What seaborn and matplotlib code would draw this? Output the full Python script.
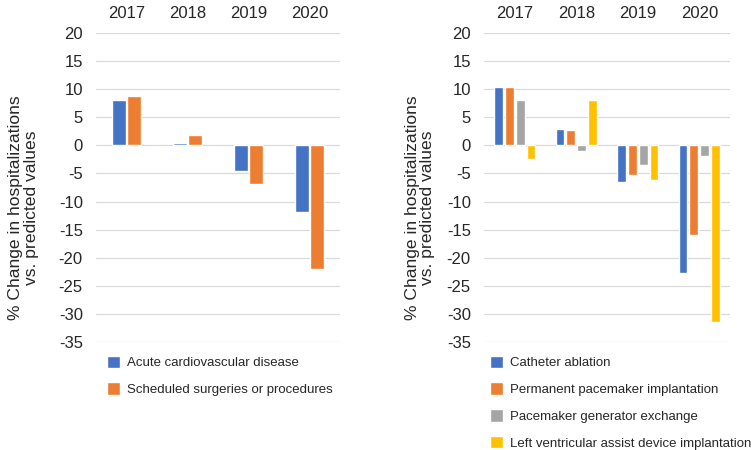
import pandas as pd
import matplotlib.pyplot as plt
import seaborn as sns

# data
years = ["2017", "2018", "2019", "2020"]

left_series = ["Acute cardiovascular disease", "Scheduled surgeries or procedures"]
acute_cvd = [8.1, 0.4, -4.6, -11.9]
scheduled = [8.8, 1.8, -6.9, -22.0]

right_series = ["Catheter ablation", "Permanent pacemaker implantation",
                "Pacemaker generator exchange", "Left ventricular assist device implantation"]
catheter_ablation = [10.3, 3.0, -6.6, -22.8]
ppm_implant = [10.35, 2.8, -5.2, -16.0]
generator_exchange = [8.1, -0.95, -3.5, -1.9]
lvad_implant = [-2.5, 8.1, -6.2, -31.5]

yticks = list(range(-35, 21, 5))

colors = ["#4472C4", "#ED7D31", "#A5A5A5", "#FFC000"]

sns.set_style("white")
plt.rcParams["font.family"] = ["Liberation Sans", "DejaVu Sans"]
plt.rcParams["axes.unicode_minus"] = False


def long_table(names, values):
    rows = []
    for name, vals in zip(names, values):
        for y, v in zip(years, vals):
            rows.append({"year": y, "series": name, "change": v})
    return pd.DataFrame(rows)


left_df = long_table(left_series, [acute_cvd, scheduled])
right_df = long_table(right_series, [catheter_ablation, ppm_implant,
                                     generator_exchange, lvad_implant])

fig = plt.figure(figsize=(7.51, 4.5), dpi=100)
ax1 = fig.add_axes([96 / 751, 1 - 342 / 450, 244 / 751, 309 / 450])
ax2 = fig.add_axes([484 / 751, 1 - 342 / 450, 246 / 751, 309 / 450])

sns.barplot(data=left_df, x="year", y="change", hue="series", order=years,
            hue_order=left_series, palette=colors[:2], width=0.51, gap=0.12,
            saturation=1, ax=ax1, legend=True)
sns.barplot(data=right_df, x="year", y="change", hue="series", order=years,
            hue_order=right_series, palette=colors, width=0.71, gap=0.2,
            saturation=1, ax=ax2, legend=True)

# (axes, ylabel x, legend x)
for ax, lx, legx in [(ax1, -0.235, 104), (ax2, -0.198, 487)]:
    ax.set_ylim(-35, 20)
    ax.set_yticks(yticks)
    ax.yaxis.grid(True, color="#D9D9D9", linewidth=0.9)
    ax.set_axisbelow(True)
    for s in ax.spines.values():
        s.set_visible(False)
    ax.xaxis.tick_top()
    ax.tick_params(axis="x", length=0, pad=9, labelsize=12)
    ax.tick_params(axis="y", length=0, pad=9.5, labelsize=12)
    ax.set_xlabel("")
    ax.set_ylabel("% Change in hospitalizations\nvs. predicted values", fontsize=12.6,
                  linespacing=1.02)
    ax.yaxis.set_label_coords(lx, 0.434)
    handles, labels = ax.get_legend_handles_labels()
    ax.get_legend().remove()
    fig.legend(handles, labels, loc="upper left",
               bbox_to_anchor=(legx / 751, 1 - 353 / 450), frameon=False,
               fontsize=9.5, handlelength=1.05, handleheight=1.05,
               handletextpad=0.5, labelspacing=1.0, borderaxespad=0,
               borderpad=0.2)

fig.savefig("out.png", dpi=100)
